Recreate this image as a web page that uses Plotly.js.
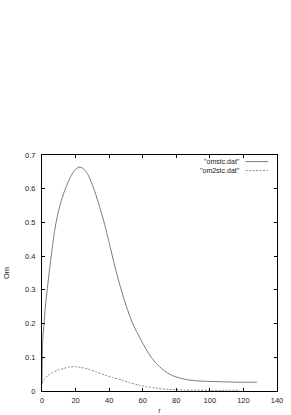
<!DOCTYPE html>
<html><head><meta charset="utf-8">
<script src="https://cdn.plot.ly/plotly-3.0.1.min.js"></script>
<style>html,body{margin:0;padding:0;background:#fff}#chart{width:291px;height:415px}</style>
</head><body><div id="chart"></div>
<script>
// Series names
var seriesNames = ['"omstc.dat"', '"om2stc.dat"'];
// omstc.dat
var rOm = [0, 0.4, 1.2, 2, 3.2, 4.6, 6, 7.6, 9.5, 11.5, 13.5, 15.5, 17.5, 19.5, 22, 24.5, 27, 30.5, 33.5, 37, 40, 43, 46.5, 50, 54, 57, 60.5, 64.5, 68, 72.4, 77, 82.4, 87, 92.3, 97, 102, 110, 118, 128];
var vOm = [0.02, 0.15, 0.2, 0.25, 0.305, 0.365, 0.42, 0.478, 0.527, 0.565, 0.594, 0.619, 0.64, 0.655, 0.664, 0.66, 0.645, 0.605, 0.56, 0.5, 0.44, 0.378, 0.312, 0.255, 0.2, 0.17, 0.137, 0.104, 0.082, 0.062, 0.047, 0.038, 0.033, 0.03, 0.029, 0.028, 0.027, 0.026, 0.026];
// om2stc.dat
var rOm2 = [0, 1.5, 3.6, 6, 9.5, 13, 16.5, 19.5, 23, 27.5, 32, 37.4, 42, 47.3, 52, 57.3, 62, 67.3, 75, 85, 100, 118];
var vOm2 = [0.023, 0.035, 0.046, 0.054, 0.062, 0.067, 0.071, 0.072, 0.07, 0.065, 0.057, 0.047, 0.04, 0.033, 0.025, 0.018, 0.013, 0.009, 0.005, 0.003, 0.002, 0.002];
// Axis ticks
var xTicks = [0, 20, 40, 60, 80, 100, 120, 140];
var yTicks = [0, 0.1, 0.2, 0.3, 0.4, 0.5, 0.6, 0.7];
var yTickText = ['0', '0.1', '0.2', '0.3', '0.4', '0.5', '0.6', '0.7'];

var lineColors = ['#7a7a7a', '#8c8c8c'];
var traces = [
  {x: rOm, y: vOm, mode: 'lines', name: seriesNames[0], line: {color: lineColors[0], width: 1, shape: 'spline', smoothing: 0.7}, showlegend: false},
  {x: rOm2, y: vOm2, mode: 'lines', name: seriesNames[1], line: {color: lineColors[1], width: 1, dash: '2px,1.5px', shape: 'spline', smoothing: 0.7}, showlegend: false}
];
var fnt = {family: 'Liberation Sans, Arial, sans-serif', size: 7.5, color: '#222'};
var legFnt = {family: 'Liberation Sans, Arial, sans-serif', size: 7, color: '#222'};
var axCommon = {showgrid: false, zeroline: false, showline: true, linecolor: '#000', linewidth: 1, mirror: 'ticks', ticks: 'inside', ticklen: 3, tickcolor: '#000', tickfont: fnt};
var layout = {
  width: 291, height: 415,
  margin: {l: 42, r: 14, t: 155, b: 24},
  paper_bgcolor: '#fff', plot_bgcolor: '#fff',
  xaxis: Object.assign({}, axCommon, {range: [0, 140], tickvals: xTicks, ticktext: xTicks.map(String), ticklabelstandoff: 2,
    title: {text: 'r', font: fnt, standoff: 5}}),
  yaxis: Object.assign({}, axCommon, {range: [0, 0.7], tickvals: yTicks, ticktext: yTickText, ticklabelstandoff: 4,
    title: {text: 'Om', font: fnt, standoff: 14}}),
  annotations: [
    {xref: 'paper', yref: 'paper', x: 0.845, y: 0.972, xanchor: 'right', yanchor: 'middle', text: seriesNames[0], showarrow: false, font: legFnt, borderpad: 0},
    {xref: 'paper', yref: 'paper', x: 0.845, y: 0.934, xanchor: 'right', yanchor: 'middle', text: seriesNames[1], showarrow: false, font: legFnt, borderpad: 0}
  ],
  shapes: [
    {type: 'line', xref: 'paper', yref: 'paper', x0: 0.866, x1: 0.962, y0: 0.972, y1: 0.972, line: {color: lineColors[0], width: 1}},
    {type: 'line', xref: 'paper', yref: 'paper', x0: 0.866, x1: 0.962, y0: 0.934, y1: 0.934, line: {color: lineColors[1], width: 1, dash: '2px,1.5px'}}
  ]
};
Plotly.newPlot('chart', traces, layout, {displayModeBar: false, staticPlot: true});
</script></body></html>
